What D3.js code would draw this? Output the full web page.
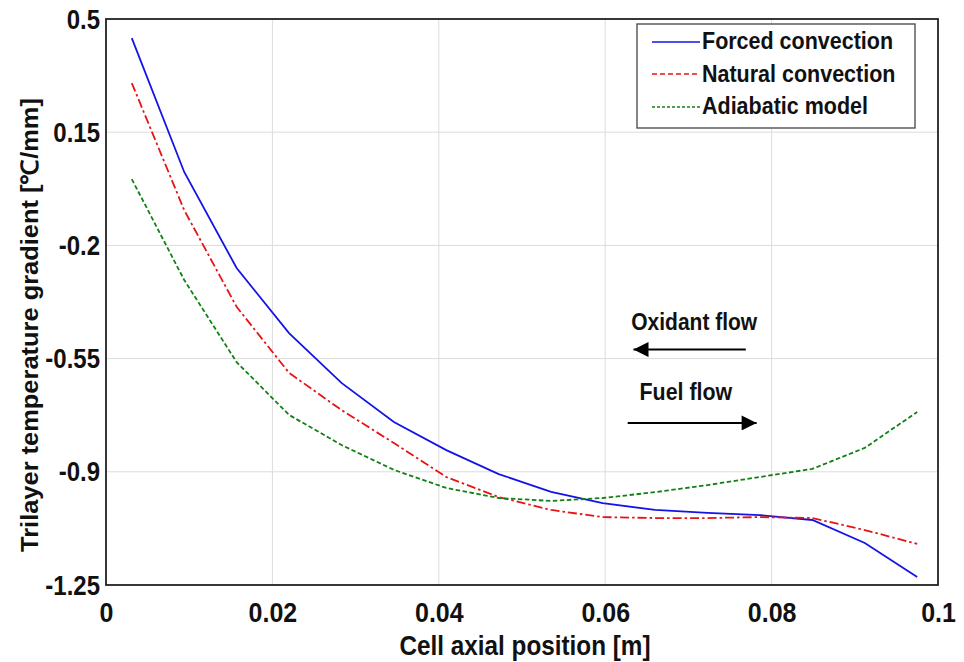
<!DOCTYPE html>
<html><head><meta charset="utf-8">
<script src="https://cdn.jsdelivr.net/npm/d3@7"></script>
<style>body{margin:0;background:#fff}svg{display:block}text{font-family:"Liberation Sans",Arial,sans-serif;font-weight:bold}</style>
</head><body>
<script>
const xPos = [0.0031,0.0094,0.0157,0.0220,0.0283,0.0346,0.0409,0.0472,0.0535,0.0597,0.0660,0.0723,0.0786,0.0849,0.0912,0.0975];
const forced = [0.441,0.027,-0.270,-0.471,-0.625,-0.746,-0.833,-0.907,-0.962,-0.997,-1.018,-1.027,-1.034,-1.049,-1.120,-1.225];
const natural = [0.302,-0.091,-0.390,-0.594,-0.709,-0.811,-0.916,-0.978,-1.018,-1.040,-1.043,-1.043,-1.040,-1.043,-1.080,-1.123];
const adiabatic = [0.005,-0.307,-0.561,-0.724,-0.817,-0.894,-0.950,-0.981,-0.990,-0.981,-0.963,-0.941,-0.916,-0.891,-0.826,-0.715];
const xTicks = [0,0.02,0.04,0.06,0.08,0.1];
const xTickLabels = ["0","0.02","0.04","0.06","0.08","0.1"];
const yTicks = [0.5,0.15,-0.2,-0.55,-0.9,-1.25];
const yTickLabels = ["0.5","0.15","-0.2","-0.55","-0.9","-1.25"];
const seriesNames = ["Forced convection","Natural convection","Adiabatic model"];

const W=964,H=662, L=106,R=938,T=19,B=585;
const SY=1.12; // vertical glyph stretch seen in the reference
const svg=d3.select("body").append("svg").attr("width",W).attr("height",H);
const x=d3.scaleLinear().domain([0,0.1]).range([L,R]);
const y=d3.scaleLinear().domain([-1.25,0.5]).range([B,T]);

function label(g,px,py,txt,size,anchor,sy){
  return g.append("text").attr("transform",`translate(${px},${py}) scale(1,${sy||SY})`)
    .attr("text-anchor",anchor||"start").attr("font-size",size).attr("fill","#111").text(txt);
}

// grid
svg.append("g").selectAll("line").data(xTicks.slice(1,-1)).join("line")
  .attr("x1",d=>x(d)).attr("x2",d=>x(d)).attr("y1",T).attr("y2",B)
  .attr("stroke","#dcdcdc").attr("stroke-width",1);
svg.append("g").selectAll("line").data(yTicks.slice(1,-1)).join("line")
  .attr("y1",d=>y(d)).attr("y2",d=>y(d)).attr("x1",L).attr("x2",R)
  .attr("stroke","#dcdcdc").attr("stroke-width",1);

// axes (ticks via d3 axes, text restyled)
const xAxis=d3.axisBottom(x).tickValues(xTicks).tickFormat((d,i)=>xTickLabels[i]).tickSize(0).tickPadding(0);
const gx=svg.append("g").attr("transform",`translate(0,${B})`).call(xAxis);
gx.select(".domain").remove();
gx.selectAll("text").attr("dy",null).attr("y",null)
  .attr("transform",`translate(0,37) scale(1,${SY})`)
  .attr("font-size",25).attr("fill","#111").style("font-weight","bold");
const yAxis=d3.axisLeft(y).tickValues(yTicks).tickFormat((d,i)=>yTickLabels[i]).tickSize(0).tickPadding(0);
const gy=svg.append("g").attr("transform",`translate(${L},0)`).call(yAxis);
gy.select(".domain").remove();
gy.selectAll("text").attr("dy",null).attr("x",null)
  .attr("transform",`translate(-6,9) scale(1,${SY})`)
  .attr("font-size",24).attr("fill","#111").style("font-weight","bold");

// frame
svg.append("rect").attr("x",L).attr("y",T).attr("width",R-L).attr("height",B-T)
  .attr("fill","none").attr("stroke","#222").attr("stroke-width",1.8);

// lines
const line=d3.line().x((d,i)=>x(xPos[i])).y(d=>y(d));
const styles=[{c:"#1414e6",dash:null},{c:"#e61414",dash:"9,3,2.5,3"},{c:"#138013",dash:"4.5,2.5"}];
[forced,natural,adiabatic].forEach((s,k)=>{
  svg.append("path").datum(s).attr("d",line).attr("fill","none")
    .attr("stroke",styles[k].c).attr("stroke-width",1.8)
    .attr("stroke-dasharray",styles[k].dash);
});

// legend
const lg=svg.append("g");
lg.append("rect").attr("x",637).attr("y",24).attr("width",278).attr("height",104)
  .attr("fill","#fff").attr("stroke","#444").attr("stroke-width",1.3);
const lgLineY=[42,74,107], lgTextY=[49,82,114];
seriesNames.forEach((n,k)=>{
  lg.append("line").attr("x1",652).attr("x2",700).attr("y1",lgLineY[k]).attr("y2",lgLineY[k])
    .attr("stroke",styles[k].c).attr("stroke-width",1.6).attr("stroke-dasharray",k==1?"5,3":(k==2?"3,2":null));
  label(lg,702,lgTextY[k],n,21.5);
});

// arrows
const defs=svg.append("defs");
defs.append("marker").attr("id","ah").attr("viewBox","0 0 10 10").attr("refX",10).attr("refY",5)
  .attr("markerWidth",21).attr("markerHeight",15).attr("markerUnits","userSpaceOnUse").attr("orient","auto")
  .append("path").attr("d","M0,0L10,5L0,10z").attr("fill","#000");
label(svg,x(0.0707),330,"Oxidant flow",21,"middle");
svg.append("line").attr("x1",x(0.0769)).attr("x2",x(0.0634)).attr("y1",y(-0.522)).attr("y2",y(-0.522))
  .attr("stroke","#000").attr("stroke-width",2).attr("marker-end","url(#ah)");
label(svg,x(0.0697),400,"Fuel flow",21.4,"middle");
svg.append("line").attr("x1",x(0.0627)).attr("x2",x(0.0782)).attr("y1",y(-0.749)).attr("y2",y(-0.749))
  .attr("stroke","#000").attr("stroke-width",2).attr("marker-end","url(#ah)");

// axis titles
label(svg,525,655,"Cell axial position [m]",24.3,"middle",1.15);
svg.append("text").attr("transform",`translate(38,325) rotate(-90) scale(1.06,1)`).attr("text-anchor","middle")
  .attr("font-size",24).attr("fill","#111").text("Trilayer temperature gradient [℃/mm]");
</script>
</body></html>
